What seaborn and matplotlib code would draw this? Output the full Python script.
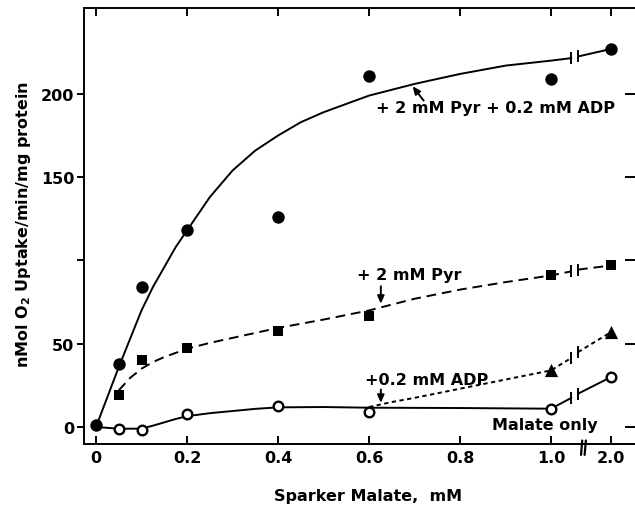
import numpy as np
import matplotlib
matplotlib.use("Agg")
import matplotlib.pyplot as plt
import matplotlib.transforms as mtransforms
import seaborn as sns

# ---------------- data ----------------
# measured points
PYR_ADP_X = [0, 0.05, 0.1, 0.2, 0.4, 0.6, 1.0, 2.0]
PYR_ADP_Y = [1, 38, 84, 118, 126, 211, 209, 227]

PYR_X = [0.05, 0.1, 0.2, 0.4, 0.6, 1.0, 2.0]
PYR_Y = [19, 40, 47.5, 57.5, 66.5, 91, 97]

MALATE_X = [0.05, 0.1, 0.2, 0.4, 0.6, 1.0, 2.0]
MALATE_Y = [-1, -1.5, 8, 12.5, 8.8, 10.8, 30]

ADP_X = [1.0, 2.0]
ADP_Y = [34, 57]

# hand-drawn fitted curves, before / after the axis break
PYR_ADP_FIT_X = [0, 0.025, 0.05, 0.075, 0.1, 0.125, 0.15, 0.175, 0.2, 0.25, 0.3, 0.35,
                 0.4, 0.45, 0.5, 0.6, 0.7, 0.8, 0.9, 1.0, 1.34]
PYR_ADP_FIT_Y = [0, 18, 36, 53, 70, 84, 96, 108, 118, 138, 154, 166,
                 175, 183, 189, 199, 206, 212, 217, 220, 221.5]
PYR_ADP_TAIL_X = [1.45, 2.0]
PYR_ADP_TAIL_Y = [222.5, 227]

PYR_FIT_X = [0.05, 0.075, 0.1, 0.125, 0.15, 0.2, 0.25, 0.3, 0.4, 0.5, 0.6, 0.7, 0.8,
             0.9, 1.0, 1.34]
PYR_FIT_Y = [22, 29.5, 35, 39, 42, 47, 50.5, 53.5, 59.5, 64.5, 70, 77, 82.5,
             87, 91, 93.5]
PYR_TAIL_X = [1.45, 2.0]
PYR_TAIL_Y = [94.5, 97]

MALATE_FIT_X = [0, 0.05, 0.1, 0.125, 0.15, 0.175, 0.2, 0.25, 0.3, 0.35, 0.4, 0.5, 0.6,
                0.8, 1.0, 1.34]
MALATE_FIT_Y = [0, -1, -1, 0.8, 2.8, 4.8, 6.5, 8.3, 9.6, 10.9, 11.8, 12, 11.6,
                11.4, 11, 17.5]
MALATE_TAIL_X = [1.45, 2.0]
MALATE_TAIL_Y = [20, 30]

ADP_FIT_X = [0.6, 0.65, 0.7, 0.8, 0.9, 1.0, 1.34]
ADP_FIT_Y = [12, 15, 17.5, 23, 28.5, 34, 41.5]
ADP_TAIL_X = [1.45, 2.0]
ADP_TAIL_Y = [45, 57]

X_TICKS = [0, 0.2, 0.4, 0.6, 0.8, 1.0, 2.0]
X_TICK_LABELS = ["0", "0.2", "0.4", "0.6", "0.8", "1.0", "2.0"]
Y_TICKS = [0, 50, 100, 150, 200]
Y_TICK_LABELS = ["0", "50", "", "150", "200"]

# ---------------- styling ----------------
sns.set_style("ticks")
plt.rcParams["font.family"] = ["DejaVu Sans"]
plt.rcParams["font.weight"] = "bold"
for key in ["text.color", "axes.labelcolor", "xtick.color", "ytick.color",
            "axes.edgecolor", "xtick.labelcolor", "ytick.labelcolor"]:
    plt.rcParams[key] = "black"

K = 0.132  # compression of the 1.0 -> 2.0 segment (broken axis)


def fwd(x):
    x = np.asarray(x, dtype=float)
    return np.where(x <= 1, x, 1 + (x - 1) * K)


def inv(t):
    t = np.asarray(t, dtype=float)
    return np.where(t <= 1, t, 1 + (t - 1) / K)


W, H = 635, 506
fig = plt.figure(figsize=(W / 100, H / 100), dpi=100)
ax = fig.add_axes([84 / W, 1 - 445 / H, (W - 84) / W, (445 - 9) / H])
ax.set_xscale("function", functions=(fwd, inv))

LW = 1.4
line_kw = dict(color="black", lw=LW, sort=False, estimator=None, ax=ax, legend=False)

# curves
sns.lineplot(x=PYR_ADP_FIT_X, y=PYR_ADP_FIT_Y, **line_kw)
sns.lineplot(x=PYR_ADP_TAIL_X, y=PYR_ADP_TAIL_Y, **line_kw)
sns.lineplot(x=PYR_FIT_X, y=PYR_FIT_Y, linestyle=(0, (5, 3)), **line_kw)
sns.lineplot(x=PYR_TAIL_X, y=PYR_TAIL_Y, linestyle=(0, (5, 3)), **line_kw)
sns.lineplot(x=MALATE_FIT_X, y=MALATE_FIT_Y, **line_kw)
sns.lineplot(x=MALATE_TAIL_X, y=MALATE_TAIL_Y, **line_kw)
sns.lineplot(x=ADP_FIT_X, y=ADP_FIT_Y, linestyle=(0, (2.2, 1.8)), **line_kw)
sns.lineplot(x=ADP_TAIL_X, y=ADP_TAIL_Y, linestyle=(0, (2.2, 1.8)), **line_kw)

# break bars on each curve
for fx, fy, tx, ty in [
    (PYR_ADP_FIT_X, PYR_ADP_FIT_Y, PYR_ADP_TAIL_X, PYR_ADP_TAIL_Y),
    (PYR_FIT_X, PYR_FIT_Y, PYR_TAIL_X, PYR_TAIL_Y),
    (MALATE_FIT_X, MALATE_FIT_Y, MALATE_TAIL_X, MALATE_TAIL_Y),
    (ADP_FIT_X, ADP_FIT_Y, ADP_TAIL_X, ADP_TAIL_Y),
]:
    ax.plot([fx[-1], tx[0]], [fy[-1], ty[0]], ls="none", marker="|",
            ms=9, mew=1.4, color="black", zorder=3)

# points
sns.scatterplot(x=PYR_ADP_X, y=PYR_ADP_Y, marker="o", s=80, color="black",
                edgecolor="black", linewidth=0, ax=ax, zorder=4, legend=False)
sns.scatterplot(x=PYR_X, y=PYR_Y, marker="s", s=62, color="black",
                edgecolor="black", linewidth=0, ax=ax, zorder=4, legend=False)
sns.scatterplot(x=MALATE_X, y=MALATE_Y, marker="o", s=48, color="white",
                edgecolor="black", linewidth=1.7, ax=ax, zorder=4, legend=False)
sns.scatterplot(x=ADP_X, y=ADP_Y, marker="^", s=90, color="black",
                edgecolor="black", linewidth=0, ax=ax, zorder=4, legend=False)

# axes limits & ticks
ax.set_xlim(-0.0264, float(inv(1.1846)))
ax.set_ylim(-10.2, 251.6)
ax.set_xticks(X_TICKS)
ax.set_xticklabels(X_TICK_LABELS)
ax.set_yticks(Y_TICKS)
ax.set_yticklabels(Y_TICK_LABELS)
ax.xaxis.set_minor_locator(matplotlib.ticker.NullLocator())
ax.yaxis.set_minor_locator(matplotlib.ticker.NullLocator())

for s in ["left", "bottom", "top"]:
    ax.spines[s].set_linewidth(1.4)
    ax.spines[s].set_color("black")
ax.spines["right"].set_visible(False)

ax.tick_params(axis="x", which="major", direction="in", length=6, width=1.4,
               top=True, bottom=True, labelsize=11.5, pad=4,
               color="black", labelcolor="black")
ax.tick_params(axis="y", which="major", direction="out", length=5, width=1.4,
               left=True, labelsize=11.5, pad=2, color="black", labelcolor="black")
for lab in ax.get_xticklabels() + ax.get_yticklabels():
    lab.set_fontweight("bold")

# right-side inward ticks without a spine
sec = ax.secondary_yaxis("right")
sec.set_yticks(Y_TICKS)
sec.tick_params(direction="in", length=7, width=1.4, labelright=False, color="black")
sec.spines["right"].set_visible(False)
sec.yaxis.set_minor_locator(matplotlib.ticker.NullLocator())

# x-axis break mark
bt = mtransforms.blended_transform_factory(ax.transData, ax.transAxes)
for bx in (1.50, 1.56):
    ax.plot([bx, bx + 0.02], [-0.025, 0.008], transform=bt, color="black",
            lw=1.6, clip_on=False, zorder=5)

# labels
ax.set_xlabel("Sparker Malate,  mM", fontsize=11.5, fontweight="bold", color="black")
ax.xaxis.set_label_coords(0.516, -0.1)
ax.set_ylabel("nMol O$_\\mathbf{2}$ Uptake/min/mg protein", fontsize=11.5,
              fontweight="bold", color="black")
ax.yaxis.set_label_coords(-0.093, 0.505)

# annotations
tkw = dict(fontsize=11.5, fontweight="bold", va="center", ha="left", color="black")
ax.text(0.615, 192, "+ 2 mM Pyr + 0.2 mM ADP", **tkw)
ax.annotate("", xy=(0.696, 204.6), xytext=(0.72, 196),
            arrowprops=dict(arrowstyle="-|>,head_length=0.45,head_width=0.2",
                            color="black", lw=1.4, shrinkA=0, shrinkB=0))
ax.text(0.574, 91.5, "+ 2 mM Pyr", **tkw)
ax.annotate("", xy=(0.626, 74), xytext=(0.626, 84.5),
            arrowprops=dict(arrowstyle="-|>,head_length=0.45,head_width=0.2",
                            color="black", lw=1.4, shrinkA=0, shrinkB=0))
ax.text(0.591, 28.8, "+0.2 mM ADP", **tkw)
ax.annotate("", xy=(0.626, 14.5), xytext=(0.626, 22.5),
            arrowprops=dict(arrowstyle="-|>,head_length=0.45,head_width=0.2",
                            color="black", lw=1.4, shrinkA=0, shrinkB=0))
ax.text(0.87, 1.8, "Malate only", **tkw)

fig.savefig("out.png", dpi=100, facecolor="white")
